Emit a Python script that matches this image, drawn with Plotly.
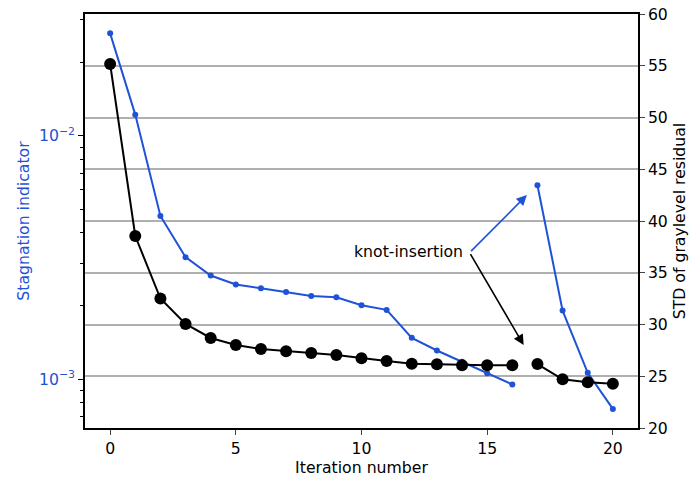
import plotly.graph_objects as go
import math

iterations = list(range(21))
stagnation = [0.0264, 0.01223, 0.00469, 0.003173, 0.002667, 0.002449, 0.002366, 0.00228,
              0.0022, 0.002173, 0.002013, 0.001927, 0.001479, 0.001312, 0.001178, 0.001058,
              0.000951, 0.006271, 0.001914, 0.001062, 0.000755]
std_residual = [55.17, 38.55, 32.51, 30.05, 28.70, 28.02, 27.63, 27.41, 27.25, 27.05,
                26.73, 26.47, 26.21, 26.15, 26.06, 26.06, 26.06, 26.18, 24.70, 24.41, 24.28]
break_after = 16  # knot insertion happens between iteration 16 and 17

x_ticks = [0, 5, 10, 15, 20]
left_tickvals = [1e-3, 1e-2]
left_ticktext = ["10<sup>\u22123</sup>", "10<sup>\u22122</sup>"]
left_minor = [6e-4, 7e-4, 8e-4, 9e-4, 2e-3, 3e-3, 4e-3, 5e-3, 6e-3, 7e-3, 8e-3, 9e-3, 2e-2, 3e-2]
right_ticks = [20, 25, 30, 35, 40, 45, 50, 55, 60]

BLUE = "#1f52d6"
FONT = "DejaVu Sans"
FS = 15.7


def split(seq):
    return seq[:break_after + 1] + [None] + seq[break_after + 1:]


fig = go.Figure()
fig.add_trace(go.Scatter(
    x=split(iterations), y=split(stagnation), mode="lines+markers",
    line=dict(color=BLUE, width=2), marker=dict(color=BLUE, size=6),
    connectgaps=False, yaxis="y", showlegend=False))
fig.add_trace(go.Scatter(
    x=split(iterations), y=split(std_residual), mode="lines+markers",
    line=dict(color="black", width=2), marker=dict(color="black", size=12),
    connectgaps=False, yaxis="y2", showlegend=False))

# knot-insertion annotation
tail_x, tail_y = 14.3, 36.94
fig.add_annotation(x=16.58, y=42.51, ax=tail_x, ay=tail_y, xref="x", yref="y2",
                   axref="x", ayref="y2", text="", showarrow=True,
                   arrowhead=2, arrowsize=1.3, arrowwidth=1.6, arrowcolor=BLUE, standoff=0, startstandoff=0)
fig.add_annotation(x=16.45, y=28.02, ax=tail_x, ay=tail_y, xref="x", yref="y2",
                   axref="x", ayref="y2", text="", showarrow=True,
                   arrowhead=2, arrowsize=1.3, arrowwidth=1.6, arrowcolor="black", standoff=0, startstandoff=0)
fig.add_annotation(x=14.12, y=tail_y + 0.15, xref="x", yref="y2", text="knot-insertion",
                   showarrow=False, xanchor="right", yanchor="middle",
                   font=dict(family=FONT, size=FS, color="black"))

fig.update_layout(
    width=694, height=477,
    margin=dict(l=85, r=56, t=14, b=49),
    paper_bgcolor="white", plot_bgcolor="white",
    font=dict(family=FONT, size=FS, color="black"),
    xaxis=dict(range=[-1, 21], tickvals=x_ticks, ticks="outside", ticklen=5, tickwidth=1.2,
               showgrid=False, zeroline=False, showline=True, linecolor="black", linewidth=1.5,
               mirror=True, automargin=False,
               title=dict(text="Iteration number", font=dict(size=FS), standoff=2),
               tickfont=dict(size=FS)),
    yaxis=dict(type="log", range=[math.log10(6.3e-4), math.log10(0.0317)],
               tickvals=left_tickvals, ticktext=left_ticktext, ticks="outside", ticklen=5,
               tickwidth=1.2, tickcolor="black", automargin=False,
               minor=dict(tickvals=left_minor, ticks="outside", ticklen=3, tickcolor="black", showgrid=False),
               showgrid=False, zeroline=False, showline=True, linecolor="black", linewidth=1.5,
               tickfont=dict(color=BLUE, size=FS),
               title=dict(text="Stagnation indicator", font=dict(color=BLUE, size=FS), standoff=5)),
    yaxis2=dict(overlaying="y", side="right", range=[20, 60], tickvals=right_ticks,
                ticks="outside", ticklen=5, tickwidth=1.2, showgrid=True, gridcolor="#b0b0b0",
                gridwidth=1.5, zeroline=False, showline=True, linecolor="black", linewidth=1.5,
                tickfont=dict(size=FS), automargin=False,
                title=dict(text="STD of graylevel residual", font=dict(size=FS), standoff=7)),
)

fig.write_html("out.html", config={"displayModeBar": False},
               post_script="document.body.style.margin='0';document.body.style.overflow='hidden';")
